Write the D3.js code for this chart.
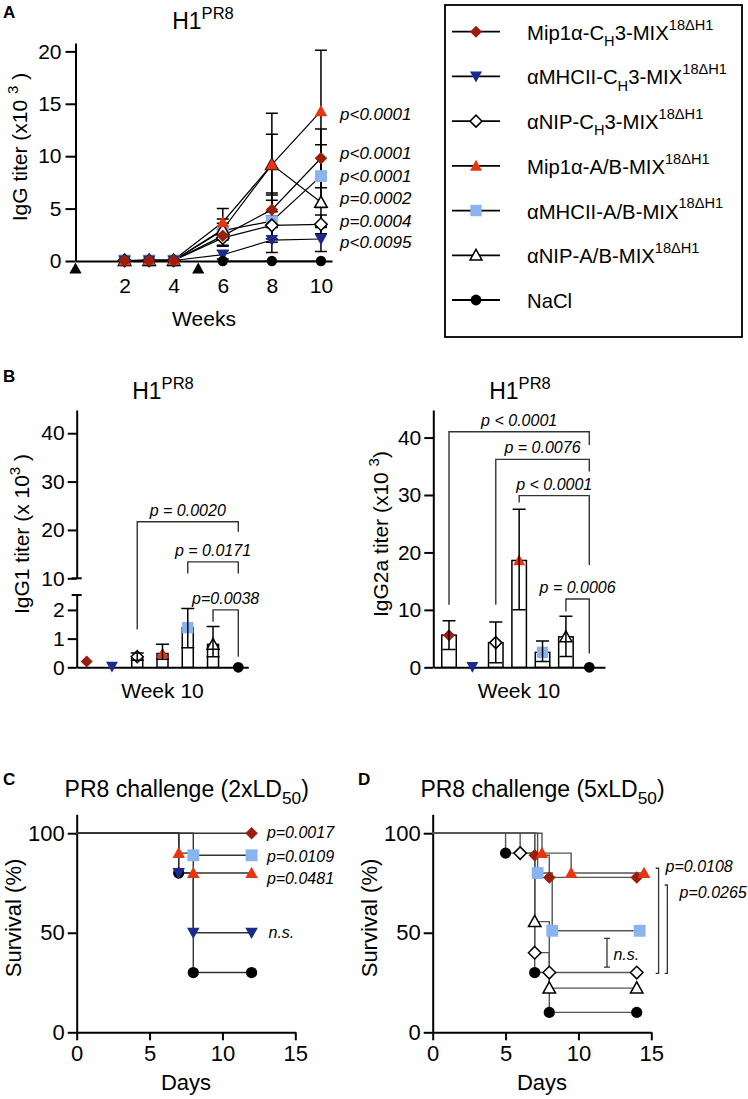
<!DOCTYPE html>
<html><head><meta charset="utf-8">
<script src="https://cdn.jsdelivr.net/npm/d3@7"></script>
<style>
body{margin:0;background:#fff}
svg{display:block}
text{font-family:"Liberation Sans",Arial,Helvetica,sans-serif;fill:#000;white-space:pre}
</style>
</head><body>
<svg id="c" width="748" height="1099"></svg>
<script>
// ---------------- DATA ----------------
const groups = ["Mip1α-CH3","αMHCII-CH3","αNIP-CH3","Mip1α-A/B","αMHCII-A/B","αNIP-A/B","NaCl"];
const groupShapes = ["diamond","tridown","diamond","triup","square","triup","circle"];
const groupFills = ["#9b1d0c","#1b2a8c","open","#e8340f","#8ab4ef","open","#000000"];
const legendLabels = [
  [["Mip1α-C","n"],["H","sub"],["3-MIX","n"],["18ΔH1","sup"]],
  [["αMHCII-C","n"],["H","sub"],["3-MIX","n"],["18ΔH1","sup"]],
  [["αNIP-C","n"],["H","sub"],["3-MIX","n"],["18ΔH1","sup"]],
  [["Mip1α-A/B-MIX","n"],["18ΔH1","sup"]],
  [["αMHCII-A/B-MIX","n"],["18ΔH1","sup"]],
  [["αNIP-A/B-MIX","n"],["18ΔH1","sup"]],
  [["NaCl","n"]]
];

// Panel A: IgG titer (x10^3) by week
const weeks = [2,3,4,6,8,10];
const weekTicks = [2,4,6,8,10];
const immunizationWeeks = [0,5];
const iggMip1aCH3    = [0.05,0.05,0.05,2.4,4.9,9.8];
const iggMip1aCH3Err = [0,0,0,0.9,1.6,2.8];
const iggMHCIICH3    = [0.05,0.05,0.05,0.6,2.0,2.1];
const iggMHCIICH3Err = [0,0,0,0.4,1.2,1.2];
const iggNIPCH3      = [0.05,0.05,0.05,2.2,3.4,3.5];
const iggNIPCH3Err   = [0,0,0,0.8,1.3,0.9];
const iggMip1aAB     = [0.05,0.1,0.1,3.7,9.2,14.3];
const iggMip1aABErr  = [0,0,0,1.3,4.9,5.8];
const iggMHCIIAB     = [0.05,0.05,0.05,2.9,3.8,8.1];
const iggMHCIIABErr  = [0,0,0,0.7,2.0,3.0];
const iggNIPAB       = [0.05,0.05,0.05,3.0,9.2,5.6];
const iggNIPABErr    = [0,0,0,1.0,2.9,2.4];
const iggNaCl        = [null,null,null,0,0,0];
const iggNaClErr     = [0,0,0,0,0,0];
const iggPLabels = ["p<0.0001","p<0.0001","p<0.0001","p=0.0002","p=0.0004","p<0.0095"];

// Panel B: week 10 IgG1 / IgG2a (x10^3)
const igg1Mean = [0.2,0.03,0.37,0.48,1.38,0.8,0];
const igg1Lo   = [0.2,0.03,0.25,0.28,0.68,0.37,0];
const igg1Hi   = [0.2,0.03,0.5,0.8,2.05,1.42,0];
const igg2aMean = [5.6,0.1,4.3,18.6,2.6,5.3,0];
const igg2aLo   = [3.1,0.1,0.8,10.0,1.0,1.9,0];
const igg2aHi   = [8.1,0.1,7.9,27.5,4.6,8.9,0];
const igg1Ticks = [0,1,2,10,20,30,40];
const igg2aTicks = [0,10,20,30,40];

// Panel C: survival, 2xLD50
const cDaysMip1aCH3 = [0,12],        cSurvMip1aCH3 = [100,100];
const cDaysMHCIICH3 = [0,7,8,12],    cSurvMHCIICH3 = [100,80,50,50];
const cDaysMip1aAB  = [0,7,8,12],    cSurvMip1aAB  = [100,90,80,80];
const cDaysMHCIIAB  = [0,8,12],      cSurvMHCIIAB  = [100,88.9,88.9];
const cDaysNaCl     = [0,7,8,12],    cSurvNaCl     = [100,80,30,30];
const cPLabels = ["p=0.0017","p=0.0109","p=0.0481","n.s."];

// Panel D: survival, 5xLD50
const dDaysMip1aCH3 = [0,7,8,14],     dSurvMip1aCH3 = [100,88.9,77.8,77.8];
const dDaysNIPCH3   = [0,6,7,8,14],   dSurvNIPCH3   = [100,90,40,30,30];
const dDaysMip1aAB  = [0,7.5,9.5,14.5], dSurvMip1aAB = [100,90,80,80];
const dDaysMHCIIAB  = [0,7.2,8.2,14.2], dSurvMHCIIAB = [100,80,51,51];
const dDaysNIPAB    = [0,7,8,14],     dSurvNIPAB    = [100,55.6,22.2,22.2];
const dDaysNaCl     = [0,5,7,8,14],   dSurvNaCl     = [100,90,30,10,10];
const survTicksX = [0,5,10,15];
const survTicksY = [0,50,100];

// ---------------- HELPERS ----------------
const FONT = '"Liberation Sans", Arial, Helvetica, sans-serif';
const svg = d3.select("#c");

function rich(g, x, y, parts, size, o = {}) {
  const t = g.append("text").attr("x", x).attr("y", y).attr("font-size", size);
  if (o.anchor) t.attr("text-anchor", o.anchor);
  if (o.italic) t.attr("font-style", "italic");
  if (o.weight) t.attr("font-weight", o.weight);
  if (o.rotate) t.attr("transform", `rotate(-90,${x},${y})`);
  const supS = o.sup ?? 0.45, subS = o.sub ?? 0.3, small = o.small ?? 0.72;
  let shift = 0;
  parts.forEach(([s, m]) => {
    const target = m === "sup" ? -supS * size : m === "sub" ? subS * size : 0;
    t.append("tspan").text(s).attr("dy", target - shift)
      .attr("font-size", m === "n" ? size : size * small);
    shift = target;
  });
  return t;
}

const symTypes = {
  diamond: {draw(c, s){const r=Math.sqrt(s)/2; c.moveTo(0,-r); c.lineTo(r,0); c.lineTo(0,r); c.lineTo(-r,0); c.closePath();}},
  triup:   {draw(c, s){const r=Math.sqrt(s)/2; c.moveTo(0,-r); c.lineTo(r,r*0.8); c.lineTo(-r,r*0.8); c.closePath();}},
  tridown: {draw(c, s){const r=Math.sqrt(s)/2; c.moveTo(0,r); c.lineTo(r,-r*0.8); c.lineTo(-r,-r*0.8); c.closePath();}},
  square:  {draw(c, s){const r=Math.sqrt(s)/2*0.95; c.rect(-r,-r,2*r,2*r);}},
  circle:  {draw(c, s){const r=Math.sqrt(s)/2*0.9; c.moveTo(r,0); c.arc(0,0,r,0,2*Math.PI);}}
};
function marker(g, gi, x, y, w) {
  const p = g.append("path")
    .attr("d", d3.symbol().type(symTypes[groupShapes[gi]]).size(w*w)())
    .attr("transform", `translate(${x},${y})`);
  if (groupFills[gi] === "open") p.attr("fill", "#fff").attr("stroke", "#000").attr("stroke-width", 1.5);
  else p.attr("fill", groupFills[gi]);
  return p;
}
function styleAxis(g, size = 21) {
  g.attr("font-size", size).attr("font-family", FONT);
  g.selectAll(".domain").attr("stroke", "#000").attr("stroke-width", 2);
  g.selectAll(".tick line").attr("stroke", "#000").attr("stroke-width", 2);
  g.selectAll(".tick text").attr("fill", "#000");
}
function panelLetter(x, y, s) {
  svg.append("text").attr("x", x).attr("y", y).attr("font-size", 17).attr("font-weight", "bold").text(s);
}

// ---------------- PANEL A ----------------
{
  const g = svg.append("g");
  const x = d3.scaleLinear().domain([0, 10.45]).range([75.5, 332]);
  const y = d3.scaleLinear().domain([0, 20.8]).range([261, 43]);
  panelLetter(3, 18, "A");
  rich(g, 203, 29, [["H1","n"],["PR8","sup"]], 23, {anchor:"middle"});

  const ya = g.append("g").attr("transform", `translate(${x(0)},0)`)
    .call(d3.axisLeft(y).tickValues([0,5,10,15,20]).tickSize(10).tickPadding(4).tickSizeOuter(0));
  styleAxis(ya);
  const xa = g.append("g").attr("transform", `translate(0,${y(0)})`)
    .call(d3.axisBottom(x).tickValues(weekTicks).tickSize(0).tickPadding(17).tickSizeOuter(0));
  styleAxis(xa);
  g.append("text").attr("x", 204).attr("y", 326).attr("text-anchor","middle").attr("font-size",21).text("Weeks");
  rich(g, 27, 147, [["IgG titer (x10 ","n"],["3","sup"],[" )","n"]], 21, {anchor:"middle", rotate:true});

  const means = [iggMip1aCH3, iggMHCIICH3, iggNIPCH3, iggMip1aAB, iggMHCIIAB, iggNIPAB, iggNaCl];
  const errs = [iggMip1aCH3Err, iggMHCIICH3Err, iggNIPCH3Err, iggMip1aABErr, iggMHCIIABErr, iggNIPABErr, iggNaClErr];
  const line = d3.line().defined(d => d[1] != null).x(d => x(d[0])).y(d => y(d[1]));
  means.forEach(m => {
    g.append("path").attr("d", line(weeks.map((w,i)=>[w,m[i]])))
      .attr("fill","none").attr("stroke","#000").attr("stroke-width",1.2);
  });
  const order = [4,5,2,1,3,0,6];
  order.forEach(gi => {
    weeks.forEach((w,i) => {
      const m = means[gi][i], e = errs[gi][i];
      if (m == null || !e) return;
      const cx = x(w);
      g.append("path").attr("d", `M${cx},${y(m-e)}V${y(m+e)}M${cx-6},${y(m+e)}H${cx+6}M${cx-6},${y(m-e)}H${cx+6}`)
        .attr("stroke","#000").attr("stroke-width",1.5).attr("fill","none");
    });
  });
  order.forEach(gi => {
    weeks.forEach((w,i) => {
      const m = means[gi][i];
      if (m == null) return;
      marker(g, gi, x(w), y(m), gi === 6 ? 11.5 : 12.5);
    });
  });
  immunizationWeeks.forEach(w => {
    g.append("path").attr("d", d3.symbol().type(symTypes.triup).size(150)())
      .attr("transform", `translate(${x(w)},${y(0)+7.5})`).attr("fill","#000");
  });
  const pY = [120,159,182,204,227,248];
  iggPLabels.forEach((t,i) => {
    g.append("text").attr("x",340).attr("y",pY[i]).attr("font-size",17).attr("font-style","italic").text(t);
  });
}

// ---------------- LEGEND ----------------
{
  const g = svg.append("g");
  g.append("rect").attr("x",445).attr("y",5).attr("width",297).attr("height",332)
    .attr("fill","none").attr("stroke","#000").attr("stroke-width",1.8);
  const ly = d3.scalePoint().domain(d3.range(groups.length)).range([31.7, 300]);
  groups.forEach((gname, i) => {
    const yy = ly(i);
    g.append("line").attr("x1",452).attr("x2",500).attr("y1",yy).attr("y2",yy).attr("stroke","#000").attr("stroke-width",1.8);
    marker(g, i, 476, yy, 12);
    rich(g, 527, yy+8, legendLabels[i], 20.3, {sup:0.5, sub:0.3});
  });
}

// ---------------- PANEL B ----------------
function bracket(g, xs, y, i1, i2, vTop, v1, v2, label) {
  const x1 = xs(i1), x2 = xs(i2), yt = y(vTop);
  g.append("path").attr("d", `M${x1},${y(v1)}V${yt}H${x2}V${y(v2)}`)
    .attr("fill","none").attr("stroke","#333").attr("stroke-width",1.4);
  g.append("text").attr("x",(x1+x2)/2).attr("y",yt-6).attr("text-anchor","middle")
    .attr("font-size",16).attr("font-style","italic").text(label);
}
function barsPanel(g, xs, y, mean, lo, hi, bw) {
  mean.forEach((m,i) => {
    if (m > 0.25) g.append("rect").attr("x", xs(i)-bw/2).attr("y", y(m)).attr("width", bw).attr("height", y(0)-y(m))
      .attr("fill","#fff").attr("stroke","#000").attr("stroke-width",1.5);
  });
  mean.forEach((m,i) => marker(g, i, xs(i), y(m), 12));
  mean.forEach((m,i) => {
    if (hi[i] - lo[i] < 0.01) return;
    const cx = xs(i), c = 6.5;
    g.append("path").attr("d", `M${cx},${y(lo[i])}V${y(hi[i])}M${cx-c},${y(hi[i])}H${cx+c}M${cx-c},${y(lo[i])}H${cx+c}`)
      .attr("fill","none").attr("stroke","#000").attr("stroke-width",1.5);
  });
}
{
  const g = svg.append("g");
  panelLetter(3, 382, "B");
  rich(g, 163, 399, [["H1","n"],["PR8","sup"]], 23, {anchor:"middle"});
  const axX = 76.7, y0 = 667.3;
  const y = d3.scaleLinear().domain([0, 2.52, 10, 44.8]).range([667.3, 595, 578.3, 410]);
  const xs = d3.scalePoint().domain(d3.range(7)).range([86.7, 238.3]);
  const yLow = d3.scaleLinear().domain([0, 2.52]).range([667.3, 595]);
  const yUp = d3.scaleLinear().domain([10, 44.8]).range([578.3, 410]);
  const a1 = g.append("g").attr("transform",`translate(${axX},0)`)
    .call(d3.axisLeft(yLow).tickValues(igg1Ticks.filter(t=>t<=2.52)).tickFormat(d3.format("d")).tickSize(9).tickPadding(3).tickSizeOuter(0));
  styleAxis(a1);
  const a2 = g.append("g").attr("transform",`translate(${axX},0)`)
    .call(d3.axisLeft(yUp).tickValues(igg1Ticks.filter(t=>t>=10)).tickFormat(d3.format("d")).tickSize(9).tickPadding(3).tickSizeOuter(0));
  styleAxis(a2);
  [595, 578.3].forEach(v => g.append("line").attr("x1",axX-5).attr("x2",axX+5).attr("y1",v).attr("y2",v).attr("stroke","#000").attr("stroke-width",2));
  const xa = g.append("g").attr("transform",`translate(0,${y0})`)
    .call(d3.axisBottom(d3.scaleLinear().range([axX, 248.3])).tickValues([]).tickSizeOuter(0));
  styleAxis(xa);
  g.append("text").attr("x",162.5).attr("y",698).attr("text-anchor","middle").attr("font-size",21).text("Week 10");
  rich(g, 29, 534, [["IgG1 titer (x 10","n"],["3","sup"],[" )","n"]], 21, {anchor:"middle", rotate:true});
  barsPanel(g, xs, y, igg1Mean, igg1Lo, igg1Hi, 11);
  bracket(g, xs, y, 2, 6, 21.7, 1.32, 19.6, "p = 0.0020");
  bracket(g, xs, y, 4, 6, 13.4, 11.0, 11.0, "p = 0.0171");
  bracket(g, xs, y, 5, 6, 2.0, 1.59, 0.37, "p=0.0038");
}
{
  const g = svg.append("g");
  rich(g, 520, 399, [["H1","n"],["PR8","sup"]], 23, {anchor:"middle"});
  const axX = 433.3;
  const y = d3.scaleLinear().domain([0, 44.8]).range([667.3, 410]);
  const xs = d3.scalePoint().domain(d3.range(7)).range([449, 589.3]);
  const a1 = g.append("g").attr("transform",`translate(${axX},0)`)
    .call(d3.axisLeft(y).tickValues(igg2aTicks).tickSize(9).tickPadding(3).tickSizeOuter(0));
  styleAxis(a1);
  const xa = g.append("g").attr("transform",`translate(0,${y(0)})`)
    .call(d3.axisBottom(d3.scaleLinear().range([axX, 605])).tickValues([]).tickSizeOuter(0));
  styleAxis(xa);
  g.append("text").attr("x",519).attr("y",698).attr("text-anchor","middle").attr("font-size",21).text("Week 10");
  rich(g, 388, 534, [["IgG2a titer (x10 ","n"],["3","sup"],[")","n"]], 21, {anchor:"middle", rotate:true});
  barsPanel(g, xs, y, igg2aMean, igg2aLo, igg2aHi, 14.5);
  bracket(g, xs, y, 0, 6, 41.0, 10.9, 38.7, "p < 0.0001");
  bracket(g, xs, y, 2, 6, 36.2, 10.9, 34.1, "p = 0.0076");
  bracket(g, xs, y, 3, 6, 29.9, 28.7, 17.8, "p < 0.0001");
  bracket(g, xs, y, 5, 6, 11.9, 9.7, 2.4, "p = 0.0006");
}

// ---------------- PANELS C & D ----------------
function survPanel(g, axX, titleX, titleParts, labelX, series, lineColor) {
  const x = d3.scaleLinear().domain([0, 15]).range([axX, axX + 218.6]);
  const y = d3.scaleLinear().domain([0, 109.5]).range([1032.3, 814.3]);
  rich(g, titleX, 796.7, titleParts, 23, {anchor:"middle", sub:0.3, small:0.75});
  const ya = g.append("g").attr("transform",`translate(${axX},0)`)
    .call(d3.axisLeft(y).tickValues(survTicksY).tickSize(9).tickPadding(3).tickSizeOuter(0));
  styleAxis(ya, 22);
  const xa = g.append("g").attr("transform",`translate(0,${y(0)})`)
    .call(d3.axisBottom(x).tickValues(survTicksX).tickSize(8).tickPadding(5).tickSizeOuter(0));
  styleAxis(xa, 22);
  g.append("text").attr("x", x(7.5)).attr("y", 1090).attr("text-anchor","middle").attr("font-size",22).text("Days");
  rich(g, labelX, 918, [["Survival (%)","n"]], 22, {anchor:"middle", rotate:true});
  const line = d3.line().curve(d3.curveStepAfter).x(d=>x(d[0])).y(d=>y(d[1]));
  series.forEach(s => {
    g.append("path").attr("d", line(s.days.map((d,i)=>[d, s.surv[i]])))
      .attr("fill","none").attr("stroke",lineColor).attr("stroke-width",1.4);
  });
  series.forEach(s => {
    s.days.forEach((d,i) => { if (i > 0) marker(g, s.gi, x(d), y(s.surv[i]), 12.5); });
  });
  return {x, y};
}
{
  const g = svg.append("g");
  panelLetter(3, 785, "C");
  const {x, y} = survPanel(g, 76.7, 186.7, [["PR8 challenge (2xLD","n"],["50","sub"],[")","n"]], 21, [
    {gi:0, days:cDaysMip1aCH3, surv:cSurvMip1aCH3},
    {gi:4, days:cDaysMHCIIAB, surv:cSurvMHCIIAB},
    {gi:3, days:cDaysMip1aAB, surv:cSurvMip1aAB},
    {gi:6, days:cDaysNaCl, surv:cSurvNaCl},
    {gi:1, days:cDaysMHCIICH3, surv:cSurvMHCIICH3}
  ], "#333");
  const pos = [[13.05,97.5],[13.05,85.7],[13.05,74.4],[13.16,47.2]];
  cPLabels.forEach((t,i) => g.append("text").attr("x",x(pos[i][0])).attr("y",y(pos[i][1]))
    .attr("font-size",16).attr("font-style","italic").text(t));
}
{
  const g = svg.append("g");
  panelLetter(358, 785, "D");
  const {x, y} = survPanel(g, 432.7, 542.5, [["PR8 challenge (5xLD","n"],["50","sub"],[")","n"]], 377, [
    {gi:6, days:dDaysNaCl, surv:dSurvNaCl},
    {gi:5, days:dDaysNIPAB, surv:dSurvNIPAB},
    {gi:2, days:dDaysNIPCH3, surv:dSurvNIPCH3},
    {gi:4, days:dDaysMHCIIAB, surv:dSurvMHCIIAB},
    {gi:0, days:dDaysMip1aCH3, surv:dSurvMip1aCH3},
    {gi:3, days:dDaysMip1aAB, surv:dSurvMip1aAB}
  ], "#555");
  const br = (xt, xv, top, bot) => g.append("path")
    .attr("d", `M${x(xt)},${y(top)}H${x(xv)}V${y(bot)}H${x(xt)}`)
    .attr("fill","none").attr("stroke","#333").attr("stroke-width",1.3);
  br(15.3, 15.5, 82.4, 29.6);
  br(15.92, 16.1, 74, 29.6);
  const nx = x(11.96);
  g.append("path").attr("d", `M${nx},${y(47.2)}V${y(32.7)}M${nx-3},${y(47.2)}H${nx+3}M${nx-3},${y(32.7)}H${nx+3}`)
    .attr("fill","none").attr("stroke","#333").attr("stroke-width",1.3);
  g.append("text").attr("x",x(15.98)).attr("y",y(80.7)).attr("font-size",16).attr("font-style","italic").text("p=0.0108");
  g.append("text").attr("x",x(16.94)).attr("y",y(67.3)).attr("font-size",16).attr("font-style","italic").text("p=0.0265");
  g.append("text").attr("x",x(12.4)).attr("y",y(36.3)).attr("font-size",16).attr("font-style","italic").text("n.s.");
}
</script>
</body></html>
